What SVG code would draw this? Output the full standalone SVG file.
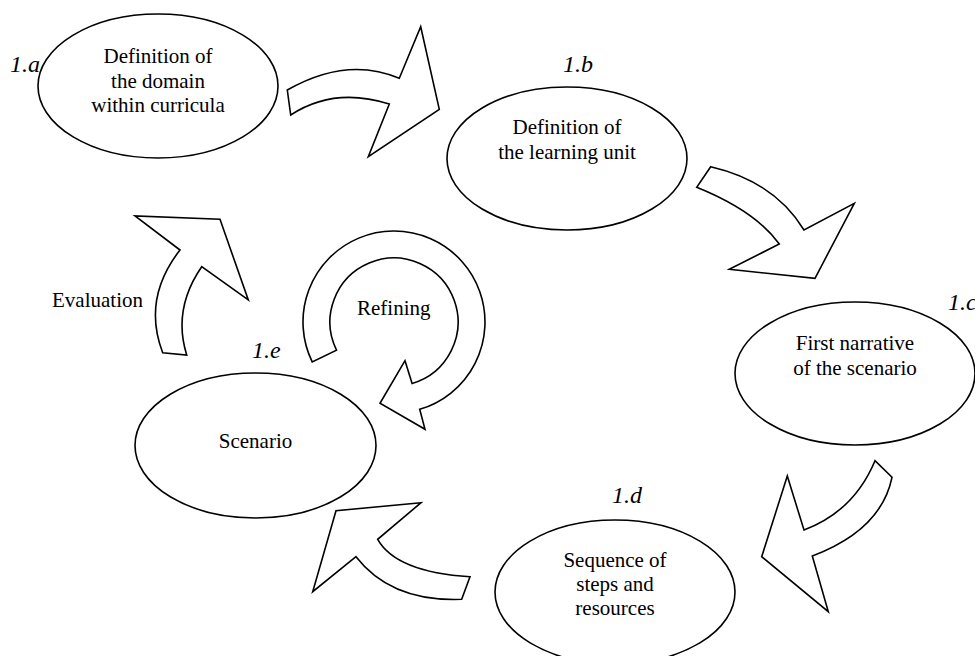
<svg xmlns="http://www.w3.org/2000/svg" width="975" height="656" viewBox="0 0 975 656">
<style>
.n{fill:#fff;stroke:#000;stroke-width:1.6}
.a{fill:#fff;stroke:#000;stroke-width:1.6;stroke-linejoin:miter}
.t{font-family:"Liberation Serif","Times New Roman",serif;font-size:21px;fill:#000;text-anchor:middle}
.l{font-family:"Liberation Serif","Times New Roman",serif;font-size:24px;font-style:italic;fill:#000}
.s{font-family:"Liberation Serif","Times New Roman",serif;font-size:21px;fill:#000}
</style>
<rect width="975" height="656" fill="#fff"/>
<g id="connectors">
<path class="a" d="M287.3,90 Q347,56 399.3,78.3 L420.7,26.7 L439.3,109.3 L368.3,156.7 L389.3,104 Q334,86.5 290.7,115 Z"/>
<path class="a" d="M710.7,166.7 Q774.5,181.5 804,230 L854.3,203.3 L815,278.3 L729.3,269.3 L779.3,244 Q755.4,211 696.7,187.3 Z"/>
<path class="a" d="M875,460.7 Q853.9,511.3 804,530 L787.3,476 L761.7,556.7 L828.3,611.7 L812.3,556 Q881.2,530 892,477.3 Z"/>
<path class="a" d="M470,576.7 Q396.2,572 377.7,539.3 L421,502.7 L336,510.7 L312.7,591.7 L356,556.7 Q391.2,602 461.7,599.3 Z"/>
<path class="a" d="M162.7,352.7 Q142,298.6 180,250 L135,216 L220,219.3 L248.3,300 L201.7,266.7 Q172.4,309.2 186.7,355 Z"/>
<path class="a" d="M312.2,361.9 A91,91 0 1 1 419.7,409.3 L425,429.3 L380,403.3 L405,360.7 L412.1,383.4 A64,64 0 1 0 336.5,350.1 Z"/>
<text class="s" x="52" y="307">Evaluation</text>
<text class="s" x="357" y="315">Refining</text>
</g>
<g id="node-1a">
<ellipse class="n" cx="158" cy="86" rx="120" ry="72"/>
<text class="t" x="158" y="63">Definition of</text>
<text class="t" x="158" y="87.5">the domain</text>
<text class="t" x="158" y="112">within curricula</text>
<text class="l" x="10" y="72">1.a</text>
</g>
<g id="node-1b">
<ellipse class="n" cx="567" cy="158.5" rx="120" ry="71.5"/>
<text class="t" x="567" y="134">Definition of</text>
<text class="t" x="567" y="159">the learning unit</text>
<text class="l" x="563" y="72">1.b</text>
</g>
<g id="node-1c">
<ellipse class="n" cx="855" cy="373.5" rx="120" ry="71.5"/>
<text class="t" x="855" y="350">First narrative</text>
<text class="t" x="855" y="375">of the scenario</text>
<text class="l" x="948" y="310">1.c</text>
</g>
<g id="node-1d">
<ellipse class="n" cx="615" cy="592" rx="120" ry="72"/>
<text class="t" x="615" y="567">Sequence of</text>
<text class="t" x="615" y="591">steps and</text>
<text class="t" x="615" y="615">resources</text>
<text class="l" x="612" y="503">1.d</text>
</g>
<g id="node-1e">
<ellipse class="n" cx="255.5" cy="445.5" rx="120.5" ry="72.5"/>
<text class="t" x="255.5" y="448">Scenario</text>
<text class="l" x="252" y="358">1.e</text>
</g>
</svg>
